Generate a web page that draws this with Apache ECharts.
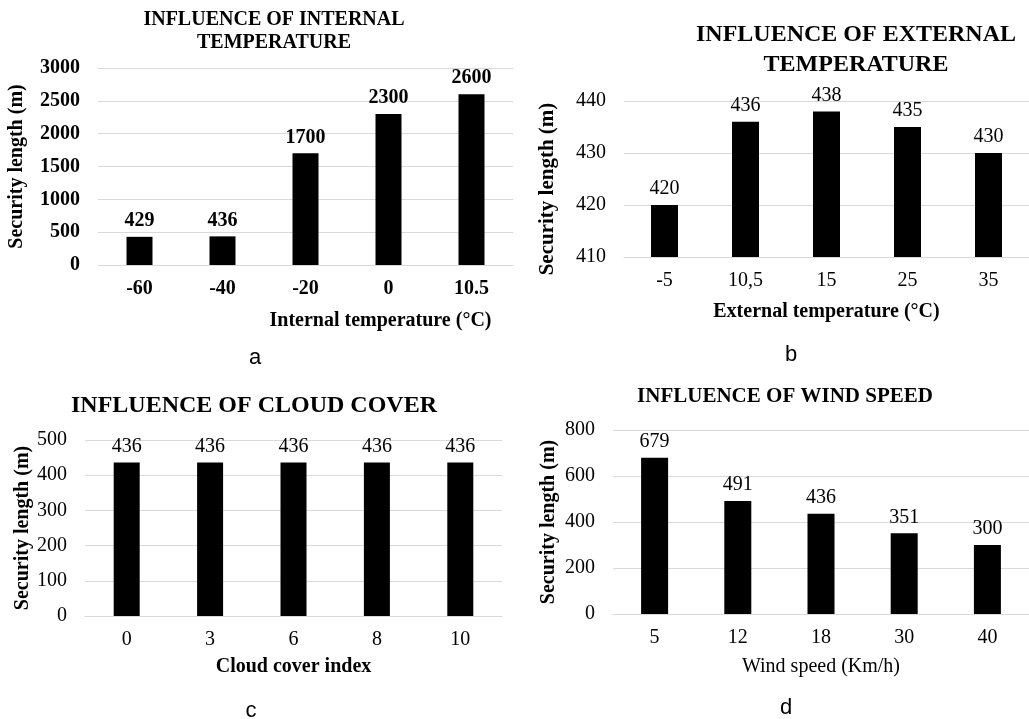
<!DOCTYPE html>
<html>
<head>
<meta charset="utf-8">
<script src="https://cdn.jsdelivr.net/npm/echarts@6/dist/echarts.min.js"></script>
<style type="text/css">
  html, body { margin: 0; padding: 0; background: #fff; }
  #chart { width: 1029px; height: 719px; }
</style>
</head>
<body>
<div id="chart"></div>
<script>
// a - internal temperature
var internalTemps = ['-60', '-40', '-20', '0', '10.5'];
var internalLengths = [429, 436, 1700, 2300, 2600];
// b - external temperature
var externalTemps = ['-5', '10,5', '15', '25', '35'];
var externalLengths = [420, 436, 438, 435, 430];
// c - cloud cover
var cloudIndex = ['0', '3', '6', '8', '10'];
var cloudLengths = [436, 436, 436, 436, 436];
// d - wind speed
var windSpeeds = ['5', '12', '18', '30', '40'];
var windLengths = [679, 491, 436, 351, 300];

var serif = 'Liberation Serif';
var sans = 'Liberation Sans';
var gridColor = '#d9d9d9';

function xAxisOf(idx, cats, name, labelBold, nameBold, nameGap, namePad) {
    return {
        gridIndex: idx,
        type: 'category',
        data: cats,
        axisLine: { show: true, lineStyle: { color: gridColor, width: 1 } },
        axisTick: { show: false },
        axisLabel: { margin: 14, color: '#000', fontFamily: serif, fontSize: 20, fontWeight: labelBold ? 'bold' : 'normal' },
        name: name,
        nameLocation: 'middle',
        nameGap: nameGap,
        nameTextStyle: { color: '#000', fontFamily: serif, fontSize: 20, fontWeight: nameBold ? 'bold' : 'normal', padding: namePad || 0 }
    };
}

function yAxisOf(idx, min, max, step, bold, nameSize, nameGap, namePad) {
    return {
        gridIndex: idx,
        type: 'value',
        min: min,
        max: max,
        interval: step,
        axisLine: { show: false },
        axisTick: { show: false },
        splitLine: { lineStyle: { color: gridColor, width: 1 } },
        axisLabel: {
            margin: 18, color: '#000', fontFamily: serif, fontSize: 20,
            fontWeight: bold ? 'bold' : 'normal',
            formatter: function (v) { return String(v); }
        },
        name: 'Security length (m)',
        nameLocation: 'middle',
        nameGap: nameGap,
        nameTextStyle: { color: '#000', fontFamily: serif, fontSize: nameSize, fontWeight: 'bold', padding: namePad || 0 }
    };
}

function barsOf(idx, values, width, bold) {
    return {
        type: 'bar',
        xAxisIndex: idx,
        yAxisIndex: idx,
        data: values,
        barWidth: width,
        itemStyle: { color: '#000' },
        label: {
            show: true,
            position: 'top',
            distance: 6,
            color: '#000',
            fontFamily: serif,
            fontSize: 20,
            fontWeight: bold ? 'bold' : 'normal'
        }
    };
}

function titleOf(text, x, y, size, lh) {
    return {
        text: text,
        left: x,
        top: y,
        textAlign: 'center',
        padding: 0,
        textStyle: { color: '#000', fontFamily: serif, fontSize: size, fontWeight: 'bold', lineHeight: lh }
    };
}

function letterOf(text, x, y) {
    return {
        text: text,
        left: x,
        top: y,
        textAlign: 'center',
        padding: 0,
        textStyle: { color: '#000', fontFamily: sans, fontSize: 22, fontWeight: 'normal' }
    };
}

var chart = echarts.init(document.getElementById('chart'));
chart.setOption({
    animation: false,
    backgroundColor: '#fff',
    title: [
        titleOf('INFLUENCE OF INTERNAL\nTEMPERATURE', 274, 8, 20, 23),
        titleOf('INFLUENCE OF EXTERNAL\nTEMPERATURE', 856, 20, 24, 30),
        titleOf('INFLUENCE OF CLOUD COVER', 254, 393, 24, 26),
        titleOf('INFLUENCE OF WIND SPEED', 785, 385, 21, 24),
        letterOf('a', 255, 347),
        letterOf('b', 791, 344),
        letterOf('c', 251, 700),
        letterOf('d', 786, 697)
    ],
    grid: [
        { left: 98, top: 68, width: 415, height: 197 },
        { left: 624, top: 101, width: 425, height: 156 },
        { left: 85, top: 440, width: 417, height: 176 },
        { left: 613, top: 430, width: 427, height: 184 }
    ],
    xAxis: [
        xAxisOf(0, internalTemps, 'Internal temperature (°C)', true, true, 46, [0, 0, 0, 150]),
        xAxisOf(1, externalTemps, 'External temperature (°C)', false, true, 45),
        xAxisOf(2, cloudIndex, 'Cloud cover index', false, true, 41),
        xAxisOf(3, windSpeeds, 'Wind speed (Km/h)', false, false, 43)
    ],
    yAxis: [
        yAxisOf(0, 0, 3000, 500, true, 20, 71),
        yAxisOf(1, 410, 440, 10, false, 21, 66, [0, 20, 0, 0]),
        yAxisOf(2, 0, 500, 100, false, 20, 52),
        yAxisOf(3, 0, 800, 200, false, 20, 54)
    ],
    series: [
        barsOf(0, internalLengths, 26, true),
        barsOf(1, externalLengths, 27, false),
        barsOf(2, cloudLengths, 26, false),
        barsOf(3, windLengths, 27, false)
    ]
});
</script>
</body>
</html>
